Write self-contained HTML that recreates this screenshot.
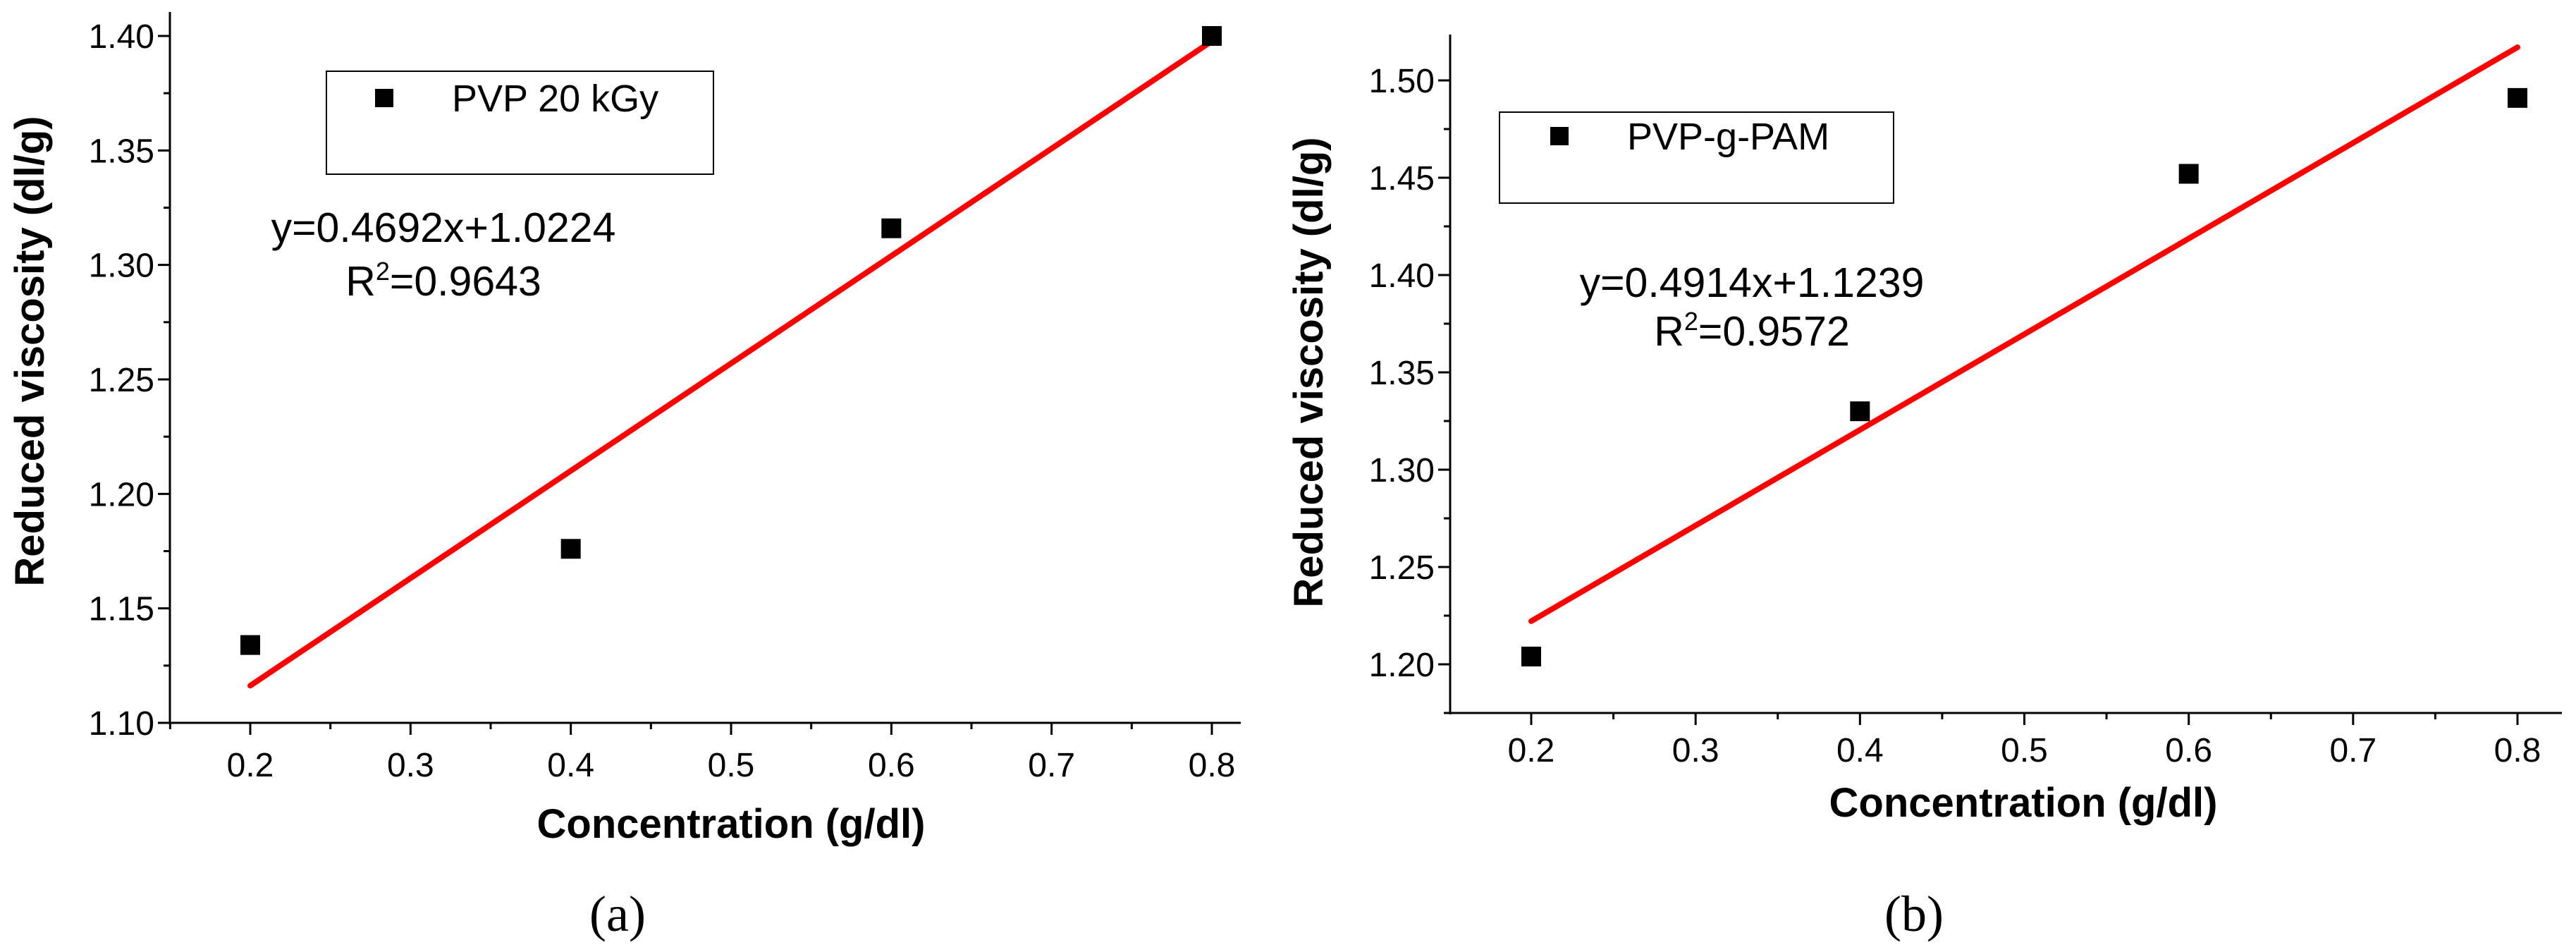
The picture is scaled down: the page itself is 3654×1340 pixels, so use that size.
<!DOCTYPE html>
<html><head><meta charset="utf-8"><style>
html,body{margin:0;padding:0;background:#fff;}
svg{display:block;font-family:"Liberation Sans",Arial,sans-serif;}
</style></head><body>
<svg id="fig" width="3654" height="1340" viewBox="0 0 3654 1340" xmlns="http://www.w3.org/2000/svg"></svg>
<script>
const xValsA = [0.2, 0.4, 0.6, 0.8];
const yValsA = [1.134, 1.176, 1.316, 1.400];
const slopeA = 0.4692, interceptA = 1.0224;
const yTicksA = ["1.10","1.15","1.20","1.25","1.30","1.35","1.40"];
const xValsB = [0.2, 0.4, 0.6, 0.8];
const yValsB = [1.204, 1.330, 1.452, 1.491];
const slopeB = 0.4914, interceptB = 1.1239;
const yTicksB = ["1.20","1.25","1.30","1.35","1.40","1.45","1.50"];
const xTicks = ["0.2","0.3","0.4","0.5","0.6","0.7","0.8"];

const NS="http://www.w3.org/2000/svg";
const svg=document.getElementById('fig');
function mk(tag,attrs,parent,text){const e=document.createElementNS(NS,tag);for(const k in attrs)e.setAttribute(k,attrs[k]);if(text!==undefined)e.textContent=text;(parent||svg).appendChild(e);return e;}

function panel(cfg){
  const g=mk('g',{});
  
  
  const X=v=>cfg.x0+(v-0.2)/(0.8-0.2)*(cfg.x1-cfg.x0);
  const Y=v=>cfg.yb+(v-cfg.ylo)/(cfg.yhi-cfg.ylo)*(cfg.yt-cfg.yb);
  const ya=mk('line',{x1:cfg.ax,y1:cfg.top,x2:cfg.ax,y2:cfg.axy+2,stroke:'#000','stroke-width':3},g);
  
  const xa=mk('line',{x1:cfg.ax,y1:cfg.axy,x2:cfg.right,y2:cfg.axy,stroke:'#000','stroke-width':3},g);
  
  for(let i=0;i<cfg.yticks.length;i++){
    const v=parseFloat(cfg.yticks[i]);const y=Y(v);
    mk('line',{x1:cfg.ax-17,y1:y,x2:cfg.ax,y2:y,stroke:'#000','stroke-width':3},g);
    const t=mk('text',{x:cfg.ax-22,y:y+17,'font-size':48,'text-anchor':'end'},g,cfg.yticks[i]);
    
  }
  for(let v=cfg.yMinorStart;v<cfg.yhiAxis;v+=0.05){
    const y=Y(v);if(y<cfg.top)break;
    mk('line',{x1:cfg.ax-9,y1:y,x2:cfg.ax,y2:y,stroke:'#000','stroke-width':3},g);
  }
  for(let i=0;i<xTicks.length;i++){
    const v=parseFloat(xTicks[i]);const x=X(v);
    mk('line',{x1:x,y1:cfg.axy,x2:x,y2:cfg.axy+17,stroke:'#000','stroke-width':3},g);
    const t=mk('text',{x:x,y:cfg.tly,'font-size':48,'text-anchor':'middle'},g,xTicks[i]);
    
  }
  for(let v=0.15;v<0.86;v+=0.1){const x=X(v);if(x<cfg.ax-1||x>cfg.right)continue;
    mk('line',{x1:x,y1:cfg.axy,x2:x,y2:cfg.axy+9,stroke:'#000','stroke-width':3},g);}
  const yt=mk('text',{x:0,y:0,'font-size':58,'font-weight':'bold','text-anchor':'middle',transform:`translate(${cfg.ytx},${cfg.yty}) rotate(-90)`},g,'Reduced viscosity (dl/g)');
  
  const xt=mk('text',{x:cfg.xtx,y:cfg.xty,'font-size':58,'font-weight':'bold','text-anchor':'middle'},g,'Concentration (g/dl)');
  
  const fl=mk('line',{x1:X(0.2),y1:Y(cfg.slope*0.2+cfg.int),x2:X(0.8),y2:Y(cfg.slope*0.8+cfg.int),stroke:'#f00','stroke-width':8,'stroke-linecap':'round'},g);
  
  for(let i=0;i<cfg.xs.length;i++){
    const r=mk('rect',{x:X(cfg.xs[i])-14,y:Y(cfg.ys[i])-14,width:28,height:28,fill:'#000'},g);
    
  }
  const lb=mk('rect',{x:cfg.lx,y:cfg.ly,width:cfg.lw,height:cfg.lh,fill:'none',stroke:'#000','stroke-width':2},g);
  
  mk('rect',{x:cfg.lmx-13,y:cfg.lmy-13,width:26,height:26,fill:'#000'},g);
  const lt=mk('text',{x:cfg.ltx,y:cfg.lty,'font-size':54},g,cfg.label);
  
  const eq=mk('text',{x:cfg.ex,y:cfg.ey,'font-size':59,'text-anchor':'middle'},g,cfg.eq);
  
  const r2=mk('text',{x:cfg.rx,y:cfg.ry,'font-size':59,'text-anchor':'middle'},g);
  
  mk('tspan',{},r2,'R');mk('tspan',{dy:-22,'font-size':36},r2,'2');mk('tspan',{dy:22},r2,'='+cfg.r2);
  const cap=mk('text',{x:cfg.cx,y:1320,'font-size':72,'text-anchor':'middle','font-family':'"Liberation Serif",serif'},g,cfg.cap);
  
}
panel({name:'chart-a',x0:355,x1:1719,ylo:1.10,yhi:1.40,yb:1025,yt:51,ax:241,axy:1025,top:17,right:1760,
  yticks:yTicksA,yMinorStart:1.125,yhiAxis:1.41,tly:1101,ytx:62,yty:498,xtx:1037,xty:1188,
  slope:slopeA,int:interceptA,xs:xValsA,ys:yValsA,
  lx:463,ly:101,lw:549,lh:146,lmx:545,lmy:139,ltx:641,lty:158,label:'PVP 20 kGy',
  ex:629,ey:343,eq:'y=0.4692x+1.0224',rx:629,ry:419,r2:'0.9643',cx:876,cap:'(a)'});
panel({name:'chart-b',x0:2172,x1:3571,ylo:1.20,yhi:1.50,yb:942,yt:114,ax:2057,axy:1011,top:49,right:3634,
  yticks:yTicksB,yMinorStart:1.175,yhiAxis:1.53,tly:1080,ytx:1876,yty:528,xtx:2870,xty:1158,
  slope:slopeB,int:interceptB,xs:xValsB,ys:yValsB,
  lx:2127,ly:159,lw:559,lh:129,lmx:2212,lmy:193,ltx:2308,lty:212,label:'PVP-g-PAM',
  ex:2485,ey:421,eq:'y=0.4914x+1.1239',rx:2485,ry:490,r2:'0.9572',cx:2715,cap:'(b)'});
</script>
</body></html>
